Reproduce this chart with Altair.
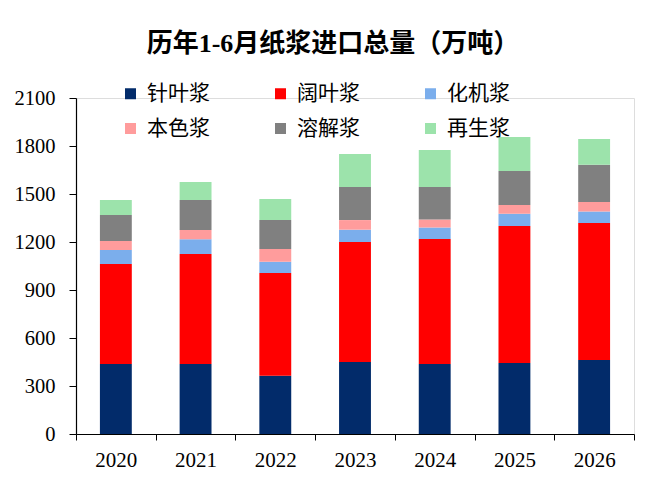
import altair as alt
import pandas as pd

years = ["2020", "2021", "2022", "2023", "2024", "2025", "2026"]
categories = ["针叶浆", "阔叶浆", "化机浆", "本色浆", "溶解浆", "再生浆"]
colors = ["#022B6A", "#FF0000", "#7BAEEC", "#FF9C9C", "#808080", "#9CE3AB"]

softwood = [437, 437, 364, 450, 437, 444, 462]
hardwood = [625, 688, 642, 750, 782, 856, 857]
mechanical = [88, 92, 71, 77, 71, 77, 71]
unbleached = [56, 58, 79, 60, 50, 54, 60]
dissolving = [163, 187, 181, 207, 204, 213, 233]
recycled = [93, 113, 132, 206, 231, 212, 161]

series = [softwood, hardwood, mechanical, unbleached, dissolving, recycled]
rows = []
for ci, (cat, vals) in enumerate(zip(categories, series)):
    for y, v in zip(years, vals):
        rows.append({"year": y, "type": cat, "value": v, "order": ci})
df = pd.DataFrame(rows)

serif = "Liberation Serif, Times New Roman, Noto Sans CJK SC"
cjk = "Noto Sans CJK SC"

chart = alt.Chart(df).mark_bar(width=alt.RelativeBandSize(0.4)).encode(
    x=alt.X("year:N", title=None, sort=years,
            scale=alt.Scale(paddingInner=0, paddingOuter=0),
            axis=alt.Axis(labelAngle=0, labelFont=serif, labelFontSize=21,
                          labelColor="black", domainColor="black", tickColor="black",
                          tickBand="extent", tickSize=6, labelPadding=9,
                          domainWidth=1.2, grid=False)),
    y=alt.Y("value:Q", title=None, stack="zero",
            scale=alt.Scale(domain=[0, 2100], nice=False),
            axis=alt.Axis(values=[0, 300, 600, 900, 1200, 1500, 1800, 2100],
                          format="d",
                          labelFont=serif, labelFontSize=20.5, labelColor="black",
                          domainColor="black", tickColor="black", tickSize=7,
                          labelPadding=14, grid=False, domainWidth=1.2)),
    color=alt.Color("type:N", sort=categories,
                    scale=alt.Scale(domain=categories, range=colors),
                    legend=alt.Legend(title=None, orient="none", legendX=44, legendY=-15,
                                      columns=3, columnPadding=60, rowPadding=13,
                                      symbolType="square", symbolSize=121,
                                      symbolStrokeWidth=0, labelFont=cjk,
                                      labelFontSize=21, labelColor="black",
                                      labelOffset=6, direction="horizontal")),
    order=alt.Order("order:Q", sort="ascending"),
).properties(
    width=558, height=336,
    title=alt.Title("历年1-6月纸浆进口总量（万吨）", font=serif, fontSize=26,
                    fontWeight="bold", color="black", anchor="middle", dx=-22, offset=26),
    padding={"left": 68, "top": 90, "right": 10, "bottom": 50},
    autosize="none",
).configure_view(stroke=None).configure(background="white")

chart.save("out.html", embed_options={"renderer": "svg", "actions": False})
